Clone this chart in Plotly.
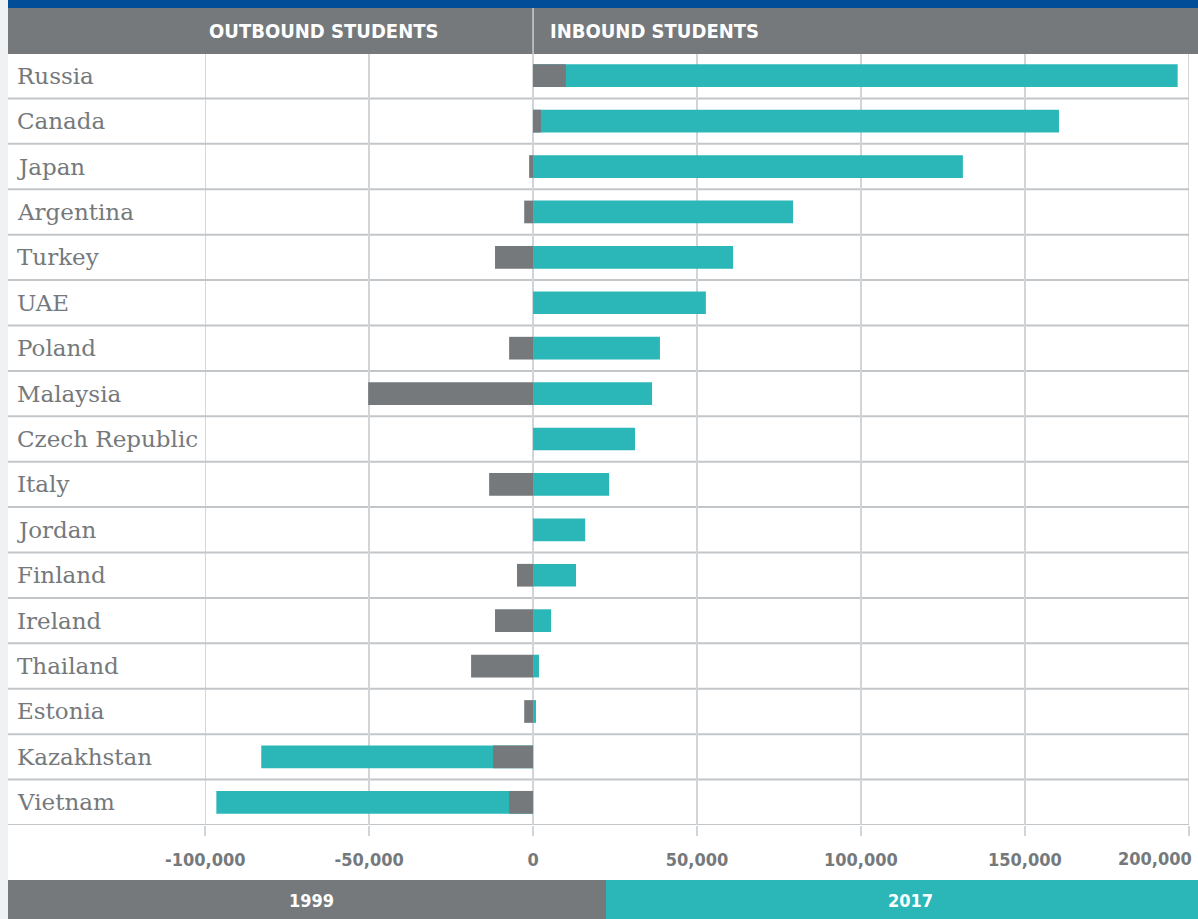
import plotly.graph_objects as go

countries = ["Russia", "Canada", "Japan", "Argentina", "Turkey", "UAE", "Poland",
             "Malaysia", "Czech Republic", "Italy", "Jordan", "Finland", "Ireland",
             "Thailand", "Estonia", "Kazakhstan", "Vietnam"]
net_1999 = [10000, 2400, -1200, -2700, -11600, 0, -7300, -50300, 0, -13400, 0,
            -4900, -11600, -18900, -2700, -12200, -7300]
net_2017 = [196600, 160400, 131100, 79300, 61000, 52700, 38700, 36300, 31100, 23200,
            15900, 13100, 5500, 1800, 900, -82900, -96600]
tick_vals = [-100000, -50000, 0, 50000, 100000, 150000, 200000]
tick_text = ["-100,000", "-50,000", "0", "50,000", "100,000", "150,000", "200,000"]
header_left = "OUTBOUND STUDENTS"
header_right = "INBOUND STUDENTS"
legend_names = ["1999", "2017"]

GRAY = "#75797c"
TEAL = "#2bb7b8"
BLUE = "#024d97"
GRID = "#d2d5d8"
ROWLINE = "#c3c6c9"
COND = "DejaVu Sans Condensed, DejaVu Sans, sans-serif"

W, H = 1198, 919
L, R, T, B = 205, 9, 53, 94
PW, PH = W - L - R, H - T - B

def px(x):
    return (x - L) / PW

def py(y):
    return (H - B - y) / PH

fig = go.Figure()
fig.add_trace(go.Bar(y=countries, x=net_2017, orientation="h", name=legend_names[1],
                     marker=dict(color=TEAL, line=dict(width=0)), width=0.5, opacity=1))
fig.add_trace(go.Bar(y=countries, x=net_1999, orientation="h", name=legend_names[0],
                     marker=dict(color=GRAY, line=dict(width=0)), width=0.5, opacity=1))

shapes = []
# left page strip
shapes.append(dict(type="rect", xref="paper", yref="paper", x0=px(-2), x1=px(8),
                   y0=py(H + 2), y1=py(-2), fillcolor="#eff1f3", line=dict(width=0), layer="below"))
# edge gridlines (plotly drops grid lines at the very ends of the range)
for v in (tick_vals[0], tick_vals[-1]):
    shapes.append(dict(type="line", xref="x", yref="paper", x0=v, x1=v, y0=0, y1=1,
                       line=dict(color=GRID, width=1.5), layer="below"))
# row separators
for i in range(len(countries) + 1):
    shapes.append(dict(type="line", xref="paper", yref="y", x0=px(8), x1=1,
                       y0=i - 0.5, y1=i - 0.5, line=dict(color=ROWLINE, width=2), layer="below"))
# top blue band
shapes.append(dict(type="rect", xref="paper", yref="paper", x0=px(8), x1=px(W + 2),
                   y0=py(8), y1=py(-2), fillcolor=BLUE, line=dict(width=0)))
# header band
shapes.append(dict(type="rect", xref="paper", yref="paper", x0=px(8), x1=px(W + 2),
                   y0=py(54), y1=py(8), fillcolor=GRAY, line=dict(width=0)))
shapes.append(dict(type="line", xref="x", yref="paper", x0=0, x1=0,
                   y0=py(54), y1=py(8), line=dict(color="#c9ccd0", width=1.5)))
# bottom legend bands
shapes.append(dict(type="rect", xref="paper", yref="paper", x0=px(8), x1=px(606),
                   y0=py(H + 2), y1=py(880), fillcolor=GRAY, line=dict(width=0)))
shapes.append(dict(type="rect", xref="paper", yref="paper", x0=px(606), x1=px(W + 2),
                   y0=py(H + 2), y1=py(880), fillcolor=TEAL, line=dict(width=0)))

annotations = []
for i, c in enumerate(countries):
    annotations.append(dict(text=c, xref="paper", yref="y", x=px(15), y=i,
                            xanchor="left", yanchor="middle", showarrow=False,
                            font=dict(family="DejaVu Serif", size=23, color=GRAY)))
hfont = dict(family=COND, size=20, color="white", weight="bold")
annotations.append(dict(text=header_left, xref="paper", yref="paper", x=px(440), y=py(31),
                        xanchor="right", yanchor="middle", showarrow=False, font=hfont))
annotations.append(dict(text=header_right, xref="paper", yref="paper", x=px(548), y=py(31),
                        xanchor="left", yanchor="middle", showarrow=False, font=hfont))
lfont = dict(family=COND, size=18, color="white", weight="bold")
annotations.append(dict(text=legend_names[0], xref="paper", yref="paper", x=px(311), y=py(901),
                        xanchor="center", yanchor="middle", showarrow=False, font=lfont))
annotations.append(dict(text=legend_names[1], xref="paper", yref="paper", x=px(910), y=py(901),
                        xanchor="center", yanchor="middle", showarrow=False, font=lfont))
# last tick label, shifted left so it stays inside the page as in the original
annotations.append(dict(text=tick_text[-1], xref="paper", yref="paper", x=px(1194), y=py(858),
                        xanchor="right", yanchor="middle", showarrow=False,
                        font=dict(family=COND, size=18, color=GRAY, weight="bold")))

fig.update_layout(
    width=W, height=H,
    margin=dict(l=L, r=R, t=T, b=B, autoexpand=False),
    paper_bgcolor="white", plot_bgcolor="white",
    barmode="overlay", showlegend=False,
    shapes=shapes, annotations=annotations,
    xaxis=dict(range=[-100060, 200060], tickvals=tick_vals,
               ticktext=tick_text[:-1] + [""],
               showgrid=True, gridcolor=GRID, gridwidth=1.5, zeroline=False,
               ticks="outside", ticklen=10, tickwidth=1.5, tickcolor=GRID,
               ticklabelstandoff=8,
               tickfont=dict(family=COND, size=18, color=GRAY, weight="bold"),
               showline=False, fixedrange=True),
    yaxis=dict(categoryorder="array", categoryarray=countries,
               range=[len(countries) - 0.5, -0.5], autorange=False,
               showticklabels=False, showgrid=False, zeroline=False,
               ticks="", fixedrange=True),
)

fig.write_html("out.html", config={"displayModeBar": False},
               post_script="document.body.style.margin='0';document.body.style.background='#eff1f3';")
